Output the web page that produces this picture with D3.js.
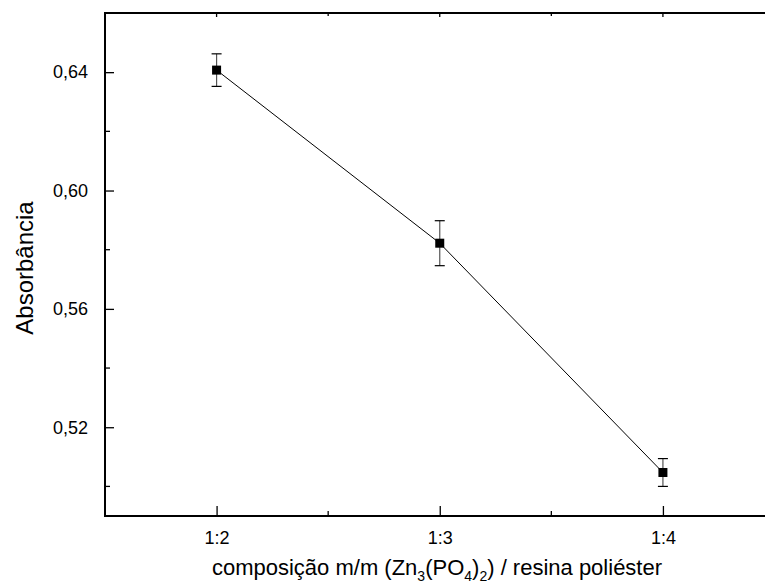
<!DOCTYPE html>
<html>
<head>
<meta charset="utf-8">
<style>
body { margin: 0; background: #fff; }
svg { display: block; font-family: "Liberation Sans", Arial, sans-serif; }
</style>
</head>
<body>
<svg width="765" height="584"></svg>
<script src="https://cdn.jsdelivr.net/npm/d3@7"></script>
<script>
var categories = ["1:2", "1:3", "1:4"];
var catIndex = [2, 3, 4];
var absorbance = [0.6407, 0.5822, 0.5047];
var errors = [0.0055, 0.0076, 0.0047];
var yTicks = [0.52, 0.56, 0.60, 0.64];
var yMinor = [0.50, 0.54, 0.58, 0.62, 0.66];
var xMinor = [1.5, 2.5, 3.5, 4.5];

var svg = d3.select("svg"),
    pLeft = 105, pRight = 774.5, pTop = 13, pBottom = 516;

var x = d3.scaleLinear().domain([1.5, 4.5]).range([pLeft, pRight]);
var y = d3.scaleLinear().domain([0.49, 0.66]).range([pBottom, pTop]);

var fmt = function(d) { return d3.format(".2f")(d).replace(".", ","); };

// minor ticks
svg.append("g").selectAll("line").data(yMinor).enter().append("line")
    .attr("x1", pLeft).attr("x2", pLeft + 5)
    .attr("y1", function(d) { return y(d); }).attr("y2", function(d) { return y(d); })
    .attr("stroke", "#000").attr("stroke-width", 1.3);
svg.append("g").selectAll("line").data(xMinor).enter().append("line")
    .attr("x1", function(d) { return x(d); }).attr("x2", function(d) { return x(d); })
    .attr("y1", pBottom).attr("y2", pBottom - 5)
    .attr("stroke", "#000").attr("stroke-width", 1.3);
svg.append("g").selectAll("line").data(xMinor).enter().append("line")
    .attr("x1", function(d) { return x(d); }).attr("x2", function(d) { return x(d); })
    .attr("y1", pTop).attr("y2", pTop + 3)
    .attr("stroke", "#000").attr("stroke-width", 1.3);

// y axis
var yAxis = svg.append("g")
    .attr("transform", "translate(" + pLeft + ",0)")
    .call(d3.axisLeft(y).tickValues(yTicks).tickFormat(fmt).tickSizeInner(-9).tickSizeOuter(0).tickPadding(17));
yAxis.select(".domain").remove();
yAxis.selectAll(".tick line").attr("stroke-width", 1.3);
yAxis.attr("font-family", null).selectAll(".tick text").style("font-size", "18px");

// x axis
var xAxis = svg.append("g")
    .attr("transform", "translate(0," + pBottom + ")")
    .call(d3.axisBottom(x).tickValues(catIndex)
      .tickFormat(function(d, i) { return categories[i]; })
      .tickSizeInner(-10).tickSizeOuter(0).tickPadding(15));
xAxis.select(".domain").remove();
xAxis.selectAll(".tick line").attr("stroke-width", 1.3);
xAxis.attr("font-family", null).selectAll(".tick text").style("font-size", "18px");

// top axis ticks
svg.append("g").selectAll("line").data(catIndex).enter().append("line")
    .attr("x1", function(d) { return x(d); }).attr("x2", function(d) { return x(d); })
    .attr("y1", pTop).attr("y2", pTop + 4)
    .attr("stroke", "#000").attr("stroke-width", 1.3);

// frame
svg.append("path")
    .attr("d", "M765," + pTop + "H" + pLeft + "V" + pBottom + "H765")
    .attr("fill", "none").attr("stroke", "#000").attr("stroke-width", 2);

var pts = catIndex.map(function(c, i) { return {x: c, y: absorbance[i], e: errors[i]}; });

// line
svg.append("path").datum(pts)
    .attr("fill", "none").attr("stroke", "#000").attr("stroke-width", 1)
    .attr("d", d3.line().x(function(d) { return x(d.x); }).y(function(d) { return y(d.y); }));

// error bars
var eb = svg.append("g").selectAll("g").data(pts).enter().append("g");
eb.append("line")
    .attr("x1", function(d) { return x(d.x); }).attr("x2", function(d) { return x(d.x); })
    .attr("y1", function(d) { return y(d.y + d.e); }).attr("y2", function(d) { return y(d.y - d.e); })
    .attr("stroke", "#555").attr("stroke-width", 1.2);
[1, -1].forEach(function(s) {
  eb.append("line")
    .attr("x1", function(d) { return x(d.x) - 5; }).attr("x2", function(d) { return x(d.x) + 5; })
    .attr("y1", function(d) { return y(d.y + s * d.e); }).attr("y2", function(d) { return y(d.y + s * d.e); })
    .attr("stroke", "#000").attr("stroke-width", 1.2);
});

// markers
svg.append("g").selectAll("rect").data(pts).enter().append("rect")
    .attr("x", function(d) { return x(d.x) - 4.5; })
    .attr("y", function(d) { return y(d.y) - 4.5; })
    .attr("width", 9).attr("height", 9)
    .attr("fill", "#000");

// axis titles
svg.append("text")
    .attr("transform", "translate(33,268) rotate(-90)")
    .attr("text-anchor", "middle")
    .style("font-size", "24px")
    .text("Absorbância");

var xt = svg.append("text")
    .attr("x", 437).attr("y", 575)
    .attr("text-anchor", "middle")
    .style("font-size", "22px");
xt.append("tspan").text("composição m/m (Zn");
xt.append("tspan").attr("dy", 6).style("font-size", "14px").text("3");
xt.append("tspan").attr("dy", -6).text("(PO");
xt.append("tspan").attr("dy", 6).style("font-size", "14px").text("4");
xt.append("tspan").attr("dy", -6).text(")");
xt.append("tspan").attr("dy", 6).style("font-size", "14px").text("2");
xt.append("tspan").attr("dy", -6).text(") / resina poliéster");
</script>
</body>
</html>
